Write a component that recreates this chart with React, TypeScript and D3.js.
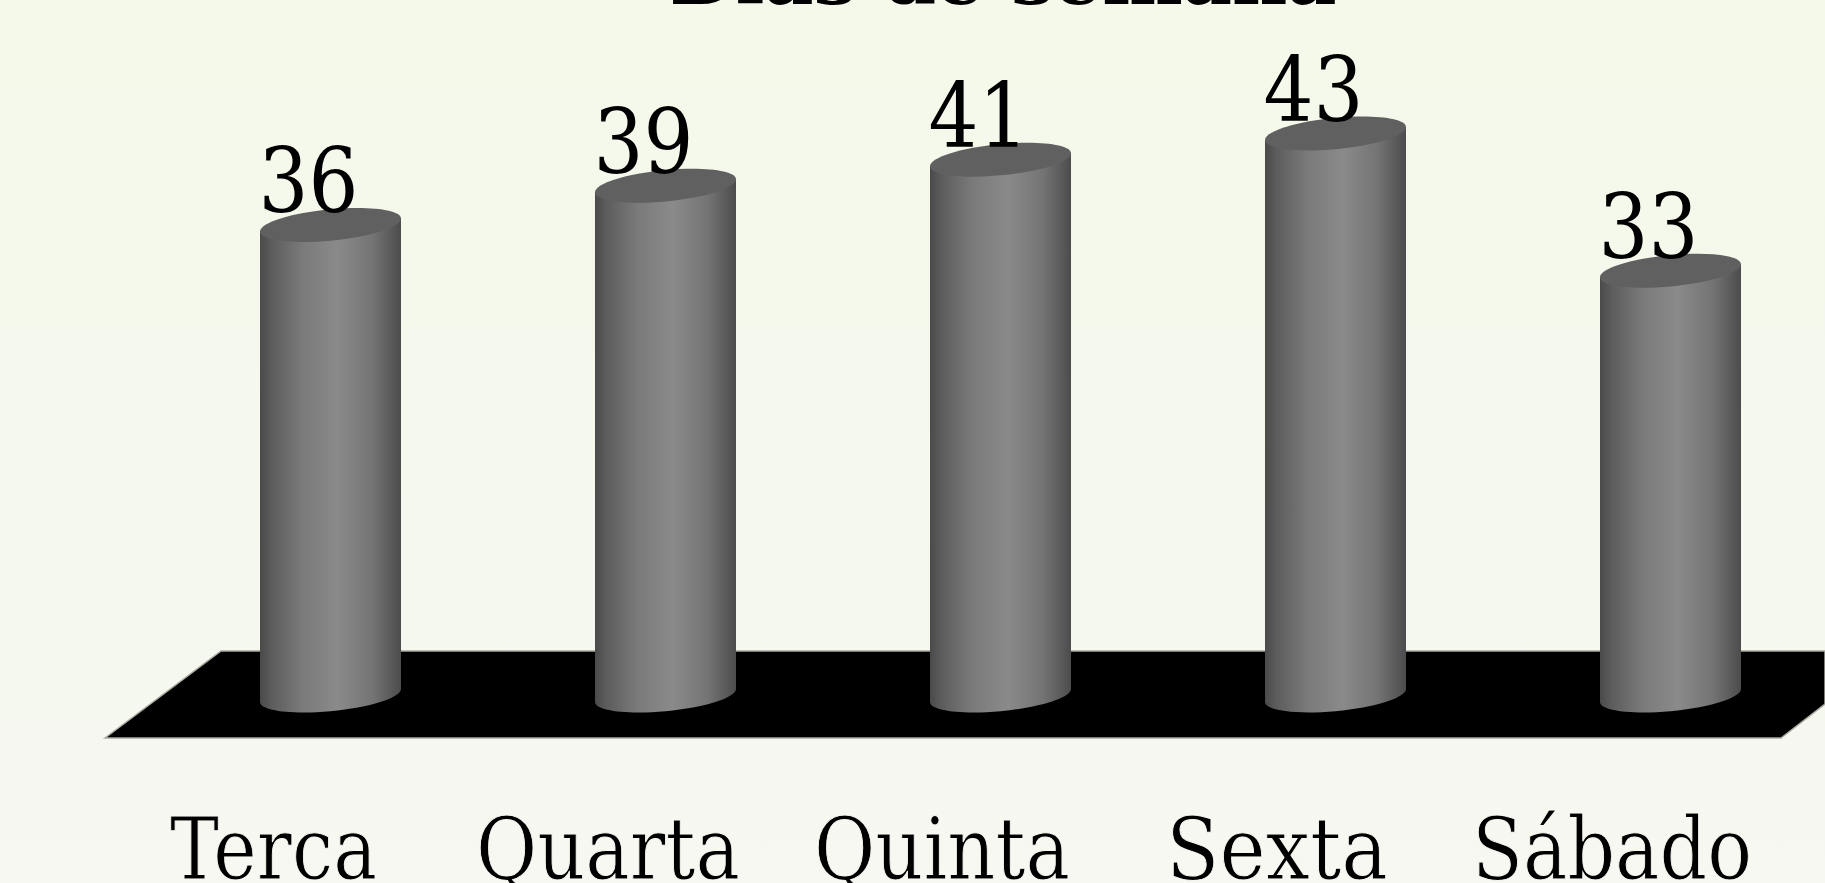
import React from "react";
import * as d3 from "d3";

const categories = ["Terca", "Quarta", "Quinta", "Sexta", "Sábado"];
const labels = [36, 39, 41, 43, 33];
// drawn heights: the last cylinder is a bit shorter than its label says
const heights = [36, 39, 41, 43, 32.5];
const title = "Dias de semana";

const labelX = [170, 476, 814, 1166, 1472];
const labelW = [207, 264, 256, 222, 280];

const W = 1825;
const H = 883;
const baseY = 702;
const rx = 70.5;
const tilt = 6.5;
const depth = 15.7;
const k = 0.5523;
const font = "DejaVu Serif";

// category centres
const x = d3.scalePoint<string>().domain(categories).range([330.5, 1670.5]);
const y = d3.scaleLinear().domain([0, 43]).range([baseY, baseY - 562]);

const floorPts: [number, number][] = [[105, 738], [221, 651], [1825, 651], [1825, 704], [1781, 738]];

// disc is a circle under an affine map: P(t) = C + U cos t + V sin t
// with U = (rx, -tilt), V = (0, -depth), left edge at (cx - rx, ly)
function upperArc(p: d3.Path, cx: number, ly: number) {
  const cy = ly - tilt;
  p.bezierCurveTo(cx - rx, cy + tilt - k * depth, cx - k * rx, cy + k * tilt - depth, cx, cy - depth);
  p.bezierCurveTo(cx + k * rx, cy - k * tilt - depth, cx + rx, cy - tilt - k * depth, cx + rx, cy - tilt);
}

function lowerArc(p: d3.Path, cx: number, ly: number) {
  const cy = ly - tilt;
  p.bezierCurveTo(cx - rx, cy + tilt + k * depth, cx - k * rx, cy + k * tilt + depth, cx, cy + depth);
  p.bezierCurveTo(cx + k * rx, cy - k * tilt + depth, cx + rx, cy - tilt + k * depth, cx + rx, cy - tilt);
}

function disc(cx: number, ly: number) {
  const p = d3.path();
  p.moveTo(cx - rx, ly);
  upperArc(p, cx, ly);
  p.bezierCurveTo(cx + rx, ly - tilt - tilt + k * depth, cx + k * rx, ly - tilt - k * tilt + depth, cx, ly - tilt + depth);
  p.bezierCurveTo(cx - k * rx, ly - tilt + k * tilt + depth, cx - rx, ly + k * depth, cx - rx, ly);
  p.closePath();
  return p.toString();
}

function body(cx: number, top: number, bottom: number) {
  const p = d3.path();
  p.moveTo(cx - rx, top);
  p.lineTo(cx - rx, bottom);
  lowerArc(p, cx, bottom);
  p.lineTo(cx + rx, top - 2 * tilt);
  p.closePath();
  return p.toString();
}

export default function App() {
  const outline = d3.line()(floorPts) + "Z";
  return (
    <svg width={W} height={H} style={{ position: "absolute", left: 0, top: 0, display: "block" }}>
      <defs>
        <linearGradient id="page" x1="0" x2="0" y1="0" y2="1">
          <stop offset="0" stopColor="#f4f9ea" />
          <stop offset="1" stopColor="#f6f8f1" />
        </linearGradient>
        <linearGradient id="cyl" x1="0" x2="1" y1="0" y2="0">
          <stop offset="0" stopColor="#4a4a4a" />
          <stop offset="0.08" stopColor="#5c5c5c" />
          <stop offset="0.3" stopColor="#7a7a7a" />
          <stop offset="0.55" stopColor="#8a8a8a" />
          <stop offset="0.8" stopColor="#747474" />
          <stop offset="0.95" stopColor="#565656" />
          <stop offset="1" stopColor="#4c4c4c" />
        </linearGradient>
      </defs>
      <rect width={W} height={H} fill="url(#page)" />
      <path d={outline} fill="#000" stroke="#a9a9a0" strokeWidth={1.5} />
      <text x={1003} y={4} textAnchor="middle" fontFamily={font} fontSize={72} fontWeight={700} textLength={667} lengthAdjust="spacingAndGlyphs">{title}</text>
      {categories.map((c, i) => {
        const cx = x(c) as number;
        const top = y(heights[i]);
        return (
          <g key={c}>
            <path d={body(cx, top, baseY)} fill="url(#cyl)" />
            <path d={disc(cx, top)} fill="#606060" />
            <text x={cx - 72} y={top - 19} fontFamily={font} fontSize={89} textLength={100} lengthAdjust="spacingAndGlyphs">{labels[i]}</text>
          </g>
        );
      })}
      {categories.map((c, i) => (
        <text key={c} x={labelX[i]} y={879} fontFamily={font} fontSize={86} textLength={labelW[i]} lengthAdjust="spacingAndGlyphs" stroke="#f6f8f1" strokeWidth={1}>{c}</text>
      ))}
    </svg>
  );
}
